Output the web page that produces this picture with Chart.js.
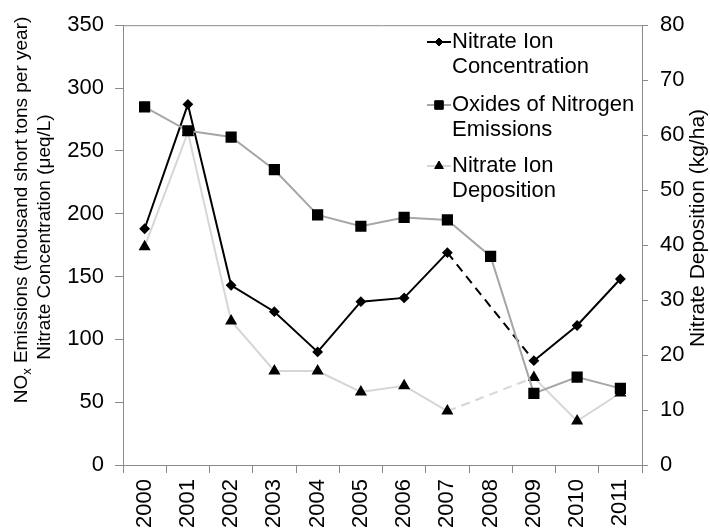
<!DOCTYPE html>
<html>
<head>
<meta charset="utf-8">
<script src="https://cdn.jsdelivr.net/npm/chart.js@4/dist/chart.umd.min.js"></script>
<style>
html,body{margin:0;padding:0;background:#fff;}
#wrap{width:710px;height:529px;}
</style>
</head>
<body>
<div id="wrap"><canvas id="c" width="710" height="529"></canvas></div>
<script>
const years = ['2000','2001','2002','2003','2004','2005','2006','2007','2008','2009','2010','2011'];
const nitrateConcentration = [188, 287, 143, 122, 90, 130, 133, 169, null, 83, 111, 148];
const noxEmissions = [285, 266, 261, 235, 199, 190, 197, 195, 166, 57, 70, 61];
const nitrateDeposition = [39.7, 60.5, 26.2, 17.1, 17.1, 13.3, 14.4, 9.8, null, 15.9, 8.0, 13.1];
const leftTicks = [0, 50, 100, 150, 200, 250, 300, 350];
const rightTicks = [0, 10, 20, 30, 40, 50, 60, 70, 80];

const FONT = "'Liberation Sans', Arial, Helvetica, sans-serif";
const AXIS = '#8a8a8a';
const C_CONC = '#000000';
const C_NOX = '#a6a6a6';
const C_DEP = '#d6d6d6';

const gapDash = ctx => ((ctx.p0.skip || ctx.p1.skip) ? [9, 6] : undefined);

const legendItems = [
  {lines: ['Nitrate Ion', 'Concentration'], color: C_CONC, style: 'rectRot', r: 4},
  {lines: ['Oxides of Nitrogen', 'Emissions'], color: C_NOX, style: 'rect', r: 6},
  {lines: ['Nitrate Ion', 'Deposition'], color: C_DEP, style: 'triangle', r: 5}
];

const customDraw = {
  id: 'customDraw',
  afterDatasetsDraw(chart) {
    const ctx = chart.ctx;
    const a = chart.chartArea;
    ctx.save();
    ctx.strokeStyle = AXIS;
    ctx.lineWidth = 1;
    ctx.beginPath();
    ctx.moveTo(a.left, a.top + 0.5);
    ctx.lineTo(a.right, a.top + 0.5);
    ctx.stroke();
    ctx.font = '22px ' + FONT;
    ctx.textBaseline = 'alphabetic';
    ctx.textAlign = 'left';
    const baseY = [48, 111, 172];
    legendItems.forEach((it, i) => {
      const by = baseY[i];
      const my = by - 6;
      ctx.strokeStyle = it.color;
      ctx.lineWidth = 2;
      ctx.beginPath();
      ctx.moveTo(427, my);
      ctx.lineTo(451, my);
      ctx.stroke();
      ctx.fillStyle = '#000';
      ctx.strokeStyle = '#000';
      ctx.lineWidth = 1;
      Chart.helpers.drawPoint(ctx, {pointStyle: it.style, radius: it.r, borderWidth: 1}, 439, my);
      ctx.fill();
      ctx.fillStyle = '#000';
      ctx.fillText(it.lines[0], 452, by);
      ctx.fillText(it.lines[1], 452, by + 25);
    });
    ctx.restore();
  },
  afterDraw(chart) {
    const ctx = chart.ctx;
    ctx.save();
    ctx.fillStyle = '#000';
    ctx.textBaseline = 'middle';
    const f = '19px ' + FONT, fs = '13px ' + FONT;
    ctx.font = f;
    const w1 = ctx.measureText('NO').width;
    const w3 = ctx.measureText(' Emissions (thousand short tons per year)').width;
    ctx.font = fs;
    const w2 = ctx.measureText('x').width;
    const total = w1 + w2 + w3;
    ctx.save();
    ctx.translate(22, 210);
    ctx.rotate(-Math.PI / 2);
    const x0 = -total / 2;
    ctx.textAlign = 'left';
    ctx.font = f;
    ctx.fillText('NO', x0, 0);
    ctx.font = fs;
    ctx.fillText('x', x0 + w1, 5);
    ctx.font = f;
    ctx.fillText(' Emissions (thousand short tons per year)', x0 + w1 + w2, 0);
    ctx.restore();
    ctx.save();
    ctx.translate(45, 237);
    ctx.rotate(-Math.PI / 2);
    ctx.textAlign = 'center';
    ctx.font = f;
    ctx.fillText('Nitrate Concentration (\u03BCeq/L)', 0, 0);
    ctx.restore();
    ctx.save();
    ctx.translate(698, 228);
    ctx.rotate(-Math.PI / 2);
    ctx.textAlign = 'center';
    ctx.font = '21px ' + FONT;
    ctx.fillText('Nitrate Deposition (kg/ha)', 0, 0);
    ctx.restore();
    ctx.restore();
  }
};

new Chart(document.getElementById('c'), {
  type: 'line',
  data: {
    labels: years,
    datasets: [
      {
        label: 'Nitrate Ion Concentration',
        data: nitrateConcentration,
        yAxisID: 'y',
        borderColor: C_CONC,
        borderWidth: 2,
        pointStyle: 'rectRot',
        pointRadius: 4,
        pointBackgroundColor: '#000',
        pointBorderColor: '#000',
        spanGaps: true,
        tension: 0,
        order: 2,
        segment: {borderDash: gapDash}
      },
      {
        label: 'Oxides of Nitrogen Emissions',
        data: noxEmissions,
        yAxisID: 'y',
        borderColor: C_NOX,
        borderWidth: 2,
        pointStyle: 'rect',
        pointRadius: 6.5,
        pointBackgroundColor: '#000',
        pointBorderColor: '#000',
        tension: 0,
        order: 1
      },
      {
        label: 'Nitrate Ion Deposition',
        data: nitrateDeposition,
        yAxisID: 'y2',
        borderColor: C_DEP,
        borderWidth: 2,
        pointStyle: 'triangle',
        pointRadius: 5,
        pointBackgroundColor: '#000',
        pointBorderColor: '#000',
        spanGaps: true,
        tension: 0,
        order: 3,
        segment: {borderDash: gapDash}
      }
    ]
  },
  options: {
    responsive: false,
    animation: false,
    layout: {padding: {top: 20, left: 0, right: 0, bottom: 0}},
    plugins: {legend: {display: false}, tooltip: {enabled: false}},
    scales: {
      x: {
        offset: true,
        grid: {offset: true, drawOnChartArea: false, tickLength: 8, color: AXIS},
        border: {color: AXIS},
        ticks: {color: '#000', font: {family: FONT, size: 22}, minRotation: 90, maxRotation: 90, padding: 6, autoSkip: false},
        afterFit(s) { s.height = 64; }
      },
      y: {
        position: 'left',
        min: 0, max: 350,
        afterBuildTicks(s) { s.ticks = leftTicks.map(v => ({value: v})); },
        grid: {drawOnChartArea: false, tickLength: 8, color: AXIS},
        border: {color: AXIS},
        ticks: {color: '#000', font: {family: FONT, size: 22}, padding: 11},
        afterFit(s) { s.width = 123; }
      },
      y2: {
        position: 'right',
        min: 0, max: 80,
        afterBuildTicks(s) { s.ticks = rightTicks.map(v => ({value: v})); },
        grid: {drawOnChartArea: false, tickLength: 6, color: AXIS},
        border: {color: AXIS},
        ticks: {color: '#000', font: {family: FONT, size: 22}, padding: 12},
        afterFit(s) { s.width = 68; }
      }
    }
  },
  plugins: [customDraw]
});
</script>
</body>
</html>
